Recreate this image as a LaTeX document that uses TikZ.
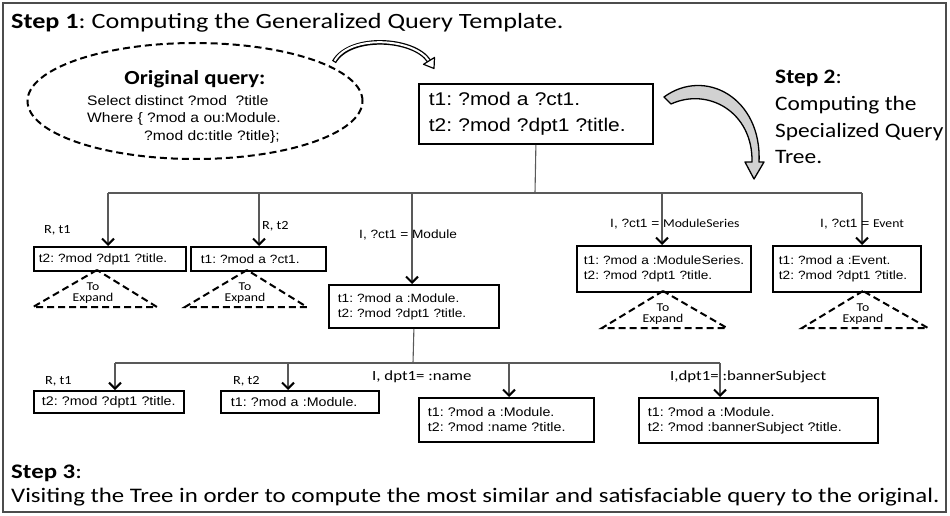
\documentclass[tikz,border=0pt]{standalone}
\usepackage{fontspec}
\usetikzlibrary{arrows.meta,shapes.geometric}
\newfontfamily\calib{Carlito}[FakeStretch=1.14]
\newfontfamily\calibw{Carlito}[FakeStretch=1.2]
\newfontfamily\arialf{Liberation Sans}[FakeStretch=1.14]
\newcommand\fsz[2]{\fontsize{#1}{#2}\selectfont}
\frenchspacing
\begin{document}
\begin{tikzpicture}[x=1pt,y=-1pt,
  tbox/.style={draw=black, line width=1.8pt, inner ysep=0pt, anchor=north west, align=left},
  lvone/.style={tbox, font=\arialf\fsz{12}{15}},
  lvtwo/.style={tbox, font=\arialf\fsz{12.5}{15}},
  conn/.style={draw=black!65, line width=1.1pt},
  arr/.style={conn, -{Straight Barb[length=6pt,width=12pt,line width=2pt,color=black]}},
  lbl/.style={inner sep=0pt, anchor=west},
  steptxt/.style={inner sep=0pt, anchor=base west, font=\calibw\fsz{21.8}{25}},
  steptwo/.style={inner sep=0pt, anchor=base west, font=\calib\fsz{20.5}{25}},
  dashtri/.style={draw=black, line width=2pt, dash pattern=on 7pt off 4pt},
  expd/.style={inner sep=0pt, align=center, font=\calib\fsz{12}{11.5}},
]
\useasboundingbox (0,0) rectangle (950,516);
\draw[black!70, line width=1.3pt] (3,3) rectangle (946,512);

% Step texts
\node[steptxt] (s1) at (11,29) {\textbf{Step 1}: Computing the Generalized Query Template.};
\node[steptwo] (s2a) at (775,84) {\textbf{Step 2}:};
\node[steptwo] (s2b) at (775,111) {Computing the};
\node[steptwo] (s2c) at (775,138) {Specialized Query};
\node[steptwo] (s2d) at (775,164) {Tree.};
\node[steptxt, font=\calibw\fsz{20.7}{25}] (s3a) at (11,478) {\textbf{Step 3}:};
\node[steptxt, font=\calibw\fsz{20.7}{25}] (s3b) at (11,502) {Visiting the Tree in order to compute the most similar and satisfaciable query to the original.};

% Original query ellipse
\node[ellipse, draw=black, line width=2pt, dash pattern=on 7pt off 4pt, minimum width=335pt, minimum height=116pt, inner sep=0pt] (oq) at (195,101) {};
\node[inner sep=0pt, font=\calib\bfseries\fsz{20}{24}] (oqt) at (195,79) {Original query:};
\node[lbl, anchor=base west, font=\arialf\fsz{13.7}{18}] (q1) at (87,106) {Select distinct ?mod\ \ ?title};
\node[lbl, anchor=base west, font=\arialf\fsz{13.7}{18}] (q2) at (87,123) {Where \{ ?mod a ou:Module.};
\node[lbl, anchor=base west, font=\arialf\fsz{13.7}{18}] (q3) at (144,140) {?mod dc:title ?title\};};

% template box
\node[tbox, font=\arialf\fsz{18.4}{26}, minimum width=234pt, minimum height=60pt, inner xsep=10pt, text width=214pt] (top) at (418,83) {t1: ?mod a ?ct1.\\t2: ?mod ?dpt1 ?title.};

% curved arrow 1 (outlined)
\draw[line width=4.6pt] (334,62) .. controls (350,34) and (414,38) .. (429,61);
\draw[white, line width=2pt, shorten <=1.3pt] (334,62) .. controls (350,34) and (414,38) .. (429,61);
\filldraw[fill=white, draw=black, line width=1.2pt, line join=round] (434.5,57.5) -- (434,68.5) -- (423.5,64.3) -- cycle;

% curved arrow 2 (gray block)
\filldraw[fill=black!18, draw=black, line width=1.3pt, line join=round]
  (664,97) .. controls (705,67) and (762,98) .. (759,162) -- (764,162) -- (754,179) -- (745,162) -- (752,162)
  .. controls (753,112) and (708,87) .. (671,104) -- cycle;

% level 1 boxes
\node[lvone, minimum width=152pt, minimum height=24pt, inner xsep=5pt, text width=142pt] (b1) at (33,246) {t2: ?mod ?dpt1 ?title.};
\node[lvone, minimum width=135pt, minimum height=24pt, inner xsep=10pt, text width=115pt] (b2) at (190,246) {t1: ?mod a ?ct1.};
\node[lvone, minimum width=170pt, minimum height=43pt, inner xsep=9pt, text width=152pt] (b3) at (328,284) {t1: ?mod a :Module.\\t2: ?mod ?dpt1 ?title.};
\node[lvone, minimum width=174pt, minimum height=46pt, inner xsep=7pt, text width=160pt] (b4) at (576,245) {\mbox{t1: ?mod a :ModuleSeries.}\\t2: ?mod ?dpt1 ?title.};
\node[lvone, minimum width=148pt, minimum height=46pt, inner xsep=6pt, text width=136pt] (b5) at (772,245) {t1: ?mod a :Event.\\t2: ?mod ?dpt1 ?title.};

% level 1 connectors
\coordinate (j0) at (535,193);
\coordinate (jL) at (108,193);
\coordinate (j2) at (259,193);
\coordinate (j3) at (412,193);
\coordinate (j4) at (662,193);
\coordinate (jR) at (862,193);
\draw[conn] (top.south) -- (j0);
\draw[conn] (jL) -- (jR);
\draw[arr] (jL) -- (jL |- b1.north);
\draw[arr] (j2) -- (j2 |- b2.north);
\draw[arr] (j3) -- (j3 |- b3.north);
\draw[arr] (j4) -- (j4 |- b4.north);
\draw[arr] (jR) -- (jR |- b5.north);

% level 1 labels
\node[lbl, font=\calib\fsz{12.5}{15}] (l1) at (44,230) {R, t1};
\node[lbl, font=\calib\fsz{12.5}{15}] (l2) at (262,226) {R, t2};
\node[lbl, font=\arialf\fsz{12}{15}] (l3) at (359,235) {I, ?ct1 = Module};
\node[lbl, font=\arialf\fsz{12}{15}] (l4) at (610,224) {I, ?ct1 = {\calib ModuleSeries}};
\node[lbl, font=\arialf\fsz{12}{15}] (l5) at (820,224) {I, ?ct1 = {\calib Event}};

% to expand triangles
\draw[dashtri] (97,270) -- (33,307) -- (157,307) -- cycle;
\node[expd] (x1) at (93,293) {To\\Expand};
\draw[dashtri] (247,270) -- (185,307) -- (307,307) -- cycle;
\node[expd] (x2) at (245,293) {To\\Expand};
\draw[dashtri] (663,291) -- (602,328) -- (727,328) -- cycle;
\node[expd] (x4) at (663,314) {To\\Expand};
\draw[dashtri] (863,291) -- (802,328) -- (928,328) -- cycle;
\node[expd] (x5) at (863,314) {To\\Expand};

% level 2 boxes
\node[lvtwo, minimum width=150pt, minimum height=22pt, inner xsep=8pt, text width=134pt] (c1) at (33,390) {\mbox{t2: ?mod ?dpt1 ?title.}};
\node[lvtwo, minimum width=158pt, minimum height=22pt, inner xsep=10pt, text width=138pt] (c2) at (220,390) {t1: ?mod a :Module.};
\node[lvtwo, minimum width=175pt, minimum height=44pt, inner xsep=9pt, text width=157pt] (c3) at (418,397) {t1: ?mod a :Module.\\t2: ?mod :name ?title.};
\node[lvtwo, minimum width=239pt, minimum height=45pt, inner xsep=9pt, text width=221pt] (c4) at (638,397) {t1: ?mod a :Module.\\t2: ?mod :bannerSubject ?title.};

% level 2 connectors
\coordinate (k0) at (413,363);
\coordinate (kL) at (115,363);
\coordinate (k2) at (288,363);
\coordinate (k3) at (509,363);
\coordinate (kR) at (720,363);
\draw[conn] (b3.south) -- (k0);
\draw[conn] (kL) -- (kR);
\draw[arr] (kL) -- (kL |- c1.north);
\draw[arr] (k2) -- (k2 |- c2.north);
\draw[arr] (k3) -- (k3 |- c3.north);
\draw[arr] (kR) -- (kR |- c4.north);

% level 2 labels
\node[lbl, font=\calib\fsz{12.5}{15}] (m1) at (45,381) {R, t1};
\node[lbl, font=\calib\fsz{12.5}{15}] (m2) at (233,381) {R, t2};
\node[lbl, font=\calibw\fsz{14}{16}] (m3) at (372,377) {I, dpt1= :name};
\node[lbl, font=\calibw\fsz{14}{16}] (m4) at (670,377) {I,dpt1= :bannerSubject};
\end{tikzpicture}
\end{document}
